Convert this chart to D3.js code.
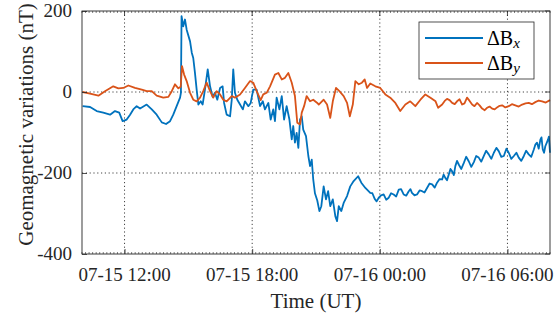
<!DOCTYPE html>
<html>
<head>
<meta charset="utf-8">
<script src="https://cdn.jsdelivr.net/npm/d3@7"></script>
</head>
<body style="margin:0">
<script>
// time in hours since 07-15 00:00 UT, values in nT
var hrsX = [10.03, 10.38, 10.69, 11.00, 11.32, 11.55, 11.75, 11.91, 12.10, 12.26, 12.41, 12.57, 12.73, 13.04, 13.28, 13.51, 13.75, 13.95, 14.14, 14.29,
  14.45, 14.61, 14.65, 14.68, 14.76, 14.84, 14.92, 15.08, 15.16, 15.23, 15.31, 15.39, 15.47, 15.58, 15.67, 15.78, 15.91, 16.02, 16.14, 16.25,
  16.36, 16.49, 16.61, 16.68, 16.80, 16.96, 17.04, 17.11, 17.19, 17.30, 17.43, 17.56, 17.66, 17.82, 17.93, 18.05, 18.21, 18.37, 18.50, 18.60,
  18.76, 18.87, 18.99, 19.07, 19.15, 19.28, 19.39, 19.50, 19.62, 19.75, 19.86, 19.93, 20.01, 20.09, 20.17, 20.25, 20.33, 20.40, 20.53, 20.64,
  20.72, 20.80, 20.87, 20.95, 21.06, 21.16, 21.25, 21.36, 21.47, 21.57, 21.67, 21.79, 21.91, 21.99, 22.07, 22.19, 22.30, 22.46, 22.61, 22.77,
  22.98, 23.13, 23.32, 23.55, 23.76, 23.95, 24.18, 24.42, 24.65, 24.89, 25.12, 25.36, 25.51, 25.75, 25.99, 26.22, 26.46, 26.69, 26.93, 27.00,
  27.08, 27.16, 27.24, 27.32, 27.40, 27.48, 27.55, 27.63, 27.71, 27.83, 27.95, 28.06, 28.18, 28.30, 28.42, 28.53, 28.65, 28.77, 28.89, 29.00,
  29.12, 29.24, 29.36, 29.48, 29.59, 29.71, 29.83, 29.95, 30.06, 30.18, 30.30, 30.42, 30.53, 30.65, 30.77, 30.88, 31.00, 31.12, 31.24, 31.31,
  31.39, 31.47, 31.55, 31.60, 31.66, 31.72, 31.78, 31.85, 31.91, 31.95, 32.00];
var dBx = [-35, -37, -47, -51, -56, -47, -51, -72, -68, -56, -43, -35, -41, -31, -43, -56, -75, -79, -72, -56,
  -35, -14, -2, 187, 162, 179, 154, 125, 97, 84, 47, 6, -31, -23, -31, 6, 56, 14, -12, -2,
  -19, 10, 14, -27, -56, -60, -19, 56, -2, -19, -31, -43, -23, -35, -27, 6, 6, -35, -23, -43,
  -27, -68, -43, -72, -14, -43, -10, -68, -35, -68, -117, -84, -125, -101, -138, -68, -60, -93, -109, -158,
  -183, -167, -216, -250, -268, -294, -282, -233, -265, -245, -282, -265, -307, -319, -282, -294, -274, -257, -233, -220,
  -208, -224, -237, -249, -264, -261, -253, -261, -253, -241, -253, -245, -249, -253, -245, -237, -228, -224, -216, -204,
  -212, -218, -204, -190, -196, -205, -183, -170, -179, -190, -175, -160, -171, -185, -173, -158, -162, -172, -158, -145,
  -154, -165, -150, -138, -146, -160, -158, -140, -150, -165, -158, -150, -162, -170, -158, -145, -154, -160, -142, -130,
  -125, -140, -117, -112, -142, -150, -134, -125, -117, -110, -150];
// extra short-period wiggles
var hrsXWiggle = [23.65, 23.85, 24.06, 24.30, 24.53, 24.77, 25.00, 25.24, 25.44, 25.63, 25.87, 26.10, 26.34, 26.58, 26.81];
var dBxWiggle = [-250, -270, -255, -266, -250, -258, -240, -256, -240, -255, -243, -248, -226, -236, -215];

var hrsY = [10.03, 10.38, 10.77, 11.08, 11.47, 11.71, 11.94, 12.18, 12.49, 12.81, 13.04, 13.28, 13.51, 13.82, 14.06, 14.22, 14.37, 14.53, 14.64, 14.70,
  14.80, 14.92, 15.08, 15.23, 15.39, 15.55, 15.70, 15.86, 16.02, 16.17, 16.33, 16.49, 16.64, 16.80, 17.04, 17.19, 17.43, 17.66, 17.90, 18.05,
  18.21, 18.40, 18.52, 18.68, 18.84, 19.07, 19.23, 19.39, 19.54, 19.70, 19.86, 20.01, 20.12, 20.25, 20.33, 20.44, 20.56, 20.72, 20.87, 21.06,
  21.13, 21.36, 21.52, 21.67, 21.79, 21.94, 22.10, 22.30, 22.46, 22.59, 22.73, 22.85, 23.01, 23.16, 23.29, 23.40, 23.55, 23.79, 24.02, 24.26,
  24.49, 24.73, 24.96, 25.20, 25.43, 25.67, 25.91, 26.14, 26.38, 26.62, 26.74, 26.93, 27.16, 27.40, 27.63, 27.87, 28.10, 28.34, 28.57, 28.81,
  29.04, 29.28, 29.51, 29.75, 30.06, 30.37, 30.69, 31.00, 31.31, 31.63, 32.00];
var dBy = [0, -4, -9, 2, 14, 9, 10, 16, 10, 6, 2, 2, -9, -14, -12, 2, 19, 9, 13, 64,
  43, 27, -2, -19, -23, -14, 2, 23, 2, -14, 2, -6, -19, -23, -10, -14, -6, 10, 27, 23,
  2, -20, -6, -2, 14, 43, 47, 31, 35, 47, 23, -10, -76, -80, -51, -35, -10, -23, -19, -27,
  -31, -19, -31, -64, -23, 10, 2, -10, -27, -60, -31, 27, 19, 23, 31, 10, 21, 14, 10, -6,
  -14, -27, -47, -31, -23, -35, -19, -6, -14, -23, -39, -31, -17, -27, -23, -31, -14, -31, -27, -41,
  -39, -41, -38, -33, -35, -33, -31, -27, -25, -23, -20];
var hrsYWiggle = [27.05, 27.28, 27.52, 27.75, 27.98, 28.22, 28.45, 28.69, 28.93, 29.16, 29.40, 29.63, 29.90, 30.21, 30.53, 30.85, 31.15, 31.47, 31.80];
var dByWiggle = [-22, -20, -30, -18, -28, -22, -35, -33, -45, -36, -43, -34, -38, -30, -36, -28, -30, -21, -26];

var yTicks = [-400, -200, 0, 200];
var xTickHrs = [12, 18, 24, 30];
var seriesNames = ["x", "y"];
var seriesColors = ["#0072BD", "#D95319"];

var FONT = "Liberation Serif";

var svgWidth = 557;
var svgHeight = 318;
var margin = { top: 11, right: 7, bottom: 64, left: 82 };
var width = svgWidth - margin.left - margin.right;
var height = svgHeight - margin.top - margin.bottom;

var base = Date.UTC(2017, 6, 15);
var toDate = h => new Date(base + h * 3600e3);

var svg = d3.select("body").append("svg")
  .attr("width", svgWidth)
  .attr("height", svgHeight)
  .style("display", "block")
  .style("background", "#fff");

var g = svg.append("g")
  .attr("transform", `translate(${margin.left},${margin.top})`);

var x = d3.scaleUtc()
  .domain([toDate(10), toDate(32)])
  .range([0, width]);

var y = d3.scaleLinear()
  .domain([-400, 200])
  .range([height, 0]);

var axisColor = "#262626";

function serifText(sel) {
  return sel.attr("font-family", FONT).style("font-family", FONT);
}

// grid
g.append("g").selectAll("line")
  .data(xTickHrs)
  .enter().append("line")
  .attr("x1", d => x(toDate(d))).attr("x2", d => x(toDate(d)))
  .attr("y1", 0).attr("y2", height)
  .attr("stroke", "#444").attr("stroke-width", 1)
  .attr("stroke-dasharray", "1.2,2.6");

g.append("g").selectAll("line")
  .data(yTicks.filter(d => d > -400 && d < 200))
  .enter().append("line")
  .attr("y1", d => y(d)).attr("y2", d => y(d))
  .attr("x1", 0).attr("x2", width)
  .attr("stroke", "#444").attr("stroke-width", 1)
  .attr("stroke-dasharray", "1.2,2.6");

// data lines
var line = d3.line()
  .x(d => x(toDate(d[0])))
  .y(d => y(d[1]));

function pairs(t, v, tw, vw) {
  return t.map((h, i) => [h, v[i]])
    .concat(tw.map((h, i) => [h, vw[i]]))
    .sort((a, b) => a[0] - b[0]);
}

var bx = pairs(hrsX, dBx, hrsXWiggle, dBxWiggle);
var by = pairs(hrsY, dBy, hrsYWiggle, dByWiggle);

[bx, by].forEach(function(s, i) {
  g.append("path")
    .datum(s)
    .attr("fill", "none")
    .attr("stroke", seriesColors[i])
    .attr("stroke-width", 1.8)
    .attr("stroke-linejoin", "round")
    .attr("d", line);
});

// axes (tick marks only; labels drawn as plain text below)
var minorTicks = d3.range(10, 32.001, 1 / 6).map(toDate);
var fmt = d3.utcFormat("%m-%d %H:%M");

var bottomAxis = d3.axisBottom(x)
  .tickValues(xTickHrs.map(toDate))
  .tickFormat("")
  .tickSizeInner(-5).tickSizeOuter(0);

var leftAxis = d3.axisLeft(y)
  .tickValues(yTicks)
  .tickFormat("")
  .tickSizeInner(-5).tickSizeOuter(0);

var xa = g.append("g")
  .attr("transform", `translate(0,${height})`)
  .call(bottomAxis);
var ya = g.append("g").call(leftAxis);

[xa, ya].forEach(function(a) {
  a.select(".domain").remove();
  a.selectAll("text").remove();
  a.selectAll("line").attr("stroke", axisColor).attr("stroke-width", 0.8);
});

g.append("g").selectAll("text")
  .data(xTickHrs)
  .enter().append("text")
  .call(serifText)
  .attr("x", d => x(toDate(d)))
  .attr("y", height + 27)
  .attr("text-anchor", "middle")
  .attr("font-size", 19)
  .attr("fill", axisColor)
  .text(d => fmt(toDate(d)));

g.append("g").selectAll("text")
  .data(yTicks)
  .enter().append("text")
  .call(serifText)
  .attr("x", -10)
  .attr("y", d => y(d) + 6)
  .attr("text-anchor", "end")
  .attr("font-size", 19)
  .attr("fill", axisColor)
  .text(d => String(d));

// minor ticks top and bottom
g.append("g").selectAll("line")
  .data(minorTicks)
  .enter().append("line")
  .attr("x1", d => x(d)).attr("x2", d => x(d))
  .attr("y1", height).attr("y2", height - 2)
  .attr("stroke", axisColor).attr("stroke-width", 0.6);
g.append("g").selectAll("line")
  .data(minorTicks)
  .enter().append("line")
  .attr("x1", d => x(d)).attr("x2", d => x(d))
  .attr("y1", 0).attr("y2", 2)
  .attr("stroke", axisColor).attr("stroke-width", 0.6);

// top/right major ticks
g.append("g").selectAll("line")
  .data(xTickHrs)
  .enter().append("line")
  .attr("x1", d => x(toDate(d))).attr("x2", d => x(toDate(d)))
  .attr("y1", 0).attr("y2", 5)
  .attr("stroke", axisColor).attr("stroke-width", 0.8);
g.append("g").selectAll("line")
  .data(yTicks)
  .enter().append("line")
  .attr("y1", d => y(d)).attr("y2", d => y(d))
  .attr("x1", width).attr("x2", width - 5)
  .attr("stroke", axisColor).attr("stroke-width", 0.8);

// box
g.append("rect")
  .attr("width", width).attr("height", height)
  .attr("fill", "none")
  .attr("stroke", axisColor).attr("stroke-width", 0.9);

// axis labels
svg.append("text")
  .call(serifText)
  .attr("transform", `translate(33,${margin.top + height / 2 - 8}) rotate(-90)`)
  .attr("text-anchor", "middle")
  .attr("font-size", 21)
  .attr("fill", axisColor)
  .text("Geomagnetic variations (nT)");

svg.append("text")
  .call(serifText)
  .attr("x", margin.left + width / 2)
  .attr("y", 308)
  .attr("text-anchor", "middle")
  .attr("font-size", 21)
  .attr("fill", axisColor)
  .text("Time (UT)");

// legend
var legend = svg.append("g").attr("transform", "translate(419,22)");
legend.append("rect")
  .attr("width", 115).attr("height", 57)
  .attr("fill", "#fff")
  .attr("stroke", axisColor).attr("stroke-width", 0.8);

seriesNames.forEach(function(n, i) {
  var row = legend.append("g").attr("transform", `translate(0,${16 + i * 25})`);
  row.append("line")
    .attr("x1", 6).attr("x2", 64)
    .attr("stroke", seriesColors[i]).attr("stroke-width", 2);
  var t = row.append("text")
    .call(serifText)
    .attr("x", 68).attr("y", 7)
    .attr("font-size", 20)
    .attr("fill", "#000");
  t.append("tspan").text("\u0394B");
  t.append("tspan")
    .attr("font-style", "italic")
    .attr("font-size", 15)
    .attr("dy", 3)
    .text(n);
});
</script>
</body>
</html>
